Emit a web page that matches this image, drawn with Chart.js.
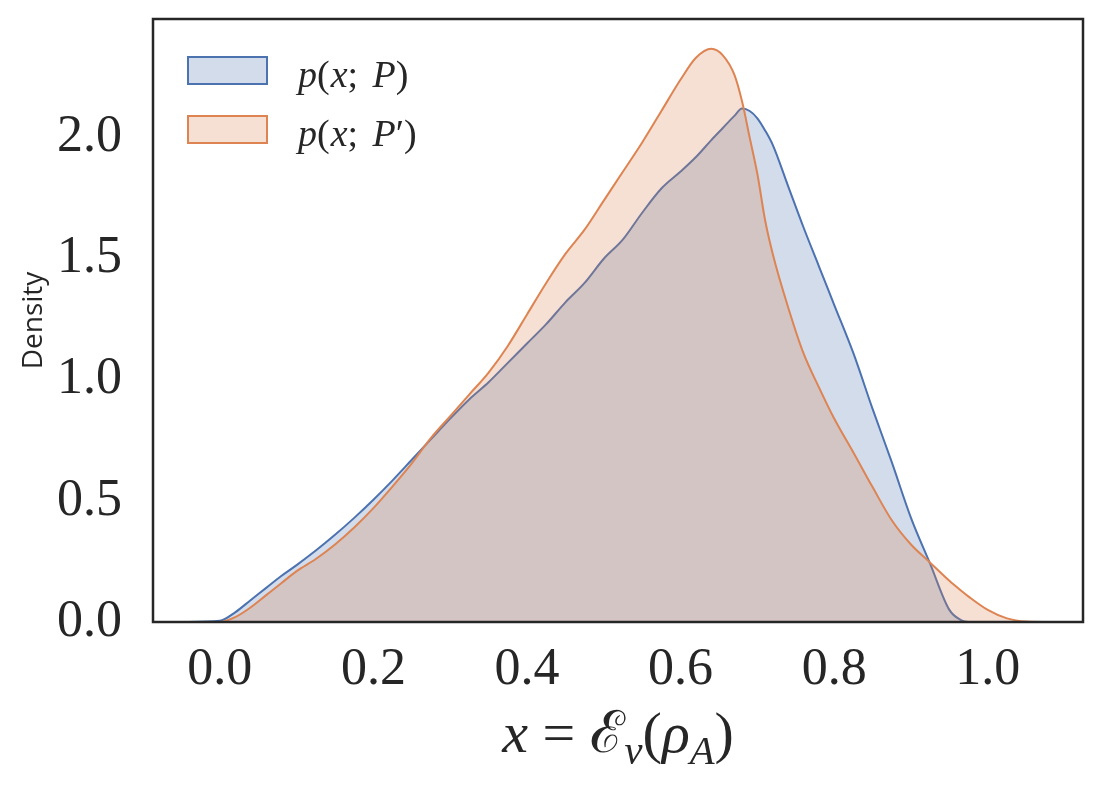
<!DOCTYPE html>
<html>
<head>
<meta charset="utf-8">
<script src="https://cdn.jsdelivr.net/npm/chart.js@4.4.0/dist/chart.umd.min.js"></script>
<style>
    html, body { margin: 0; padding: 0; background: #ffffff; }
    #wrap { width: 1102px; height: 785px; }
</style>
</head>
<body>
<div id="wrap"><canvas id="kde" width="1102" height="785"></canvas></div>
<script>
// ==================== DATA ====================

const xGrid = [-0.05, 0.0, 0.02, 0.04, 0.06, 0.08, 0.10, 0.125, 0.15, 0.175, 0.20, 0.225, 0.25, 0.275, 0.30,
    0.325, 0.35, 0.375, 0.40, 0.425, 0.45, 0.475, 0.50, 0.525, 0.55, 0.575, 0.60, 0.62, 0.64, 0.655, 0.67,
    0.68, 0.69, 0.70, 0.71, 0.72, 0.74, 0.76, 0.78, 0.80, 0.825, 0.85, 0.875, 0.90, 0.925, 0.95, 0.965,
    0.975, 1.0, 1.025, 1.05, 1.08];

// p(x;P)
const densityP = [0, 0.005, 0.04, 0.09, 0.14, 0.19, 0.235, 0.295, 0.36, 0.43, 0.505, 0.585, 0.67, 0.755, 0.84,
    0.92, 0.99, 1.07, 1.15, 1.23, 1.32, 1.40, 1.50, 1.58, 1.69, 1.79, 1.86, 1.92, 1.99, 2.04, 2.09,
    2.12, 2.11, 2.08, 2.03, 1.97, 1.80, 1.63, 1.47, 1.31, 1.11, 0.88, 0.66, 0.43, 0.24, 0.05, 0.008,
    0, 0, 0, 0, 0];

// p(x;P')
const densityP2 = [0, 0, 0.02, 0.06, 0.11, 0.16, 0.21, 0.26, 0.32, 0.39, 0.47, 0.56, 0.655, 0.76, 0.85,
    0.94, 1.03, 1.14, 1.27, 1.40, 1.52, 1.62, 1.74, 1.86, 1.98, 2.11, 2.24, 2.33, 2.367, 2.34, 2.26,
    2.15, 2.00, 1.85, 1.66, 1.52, 1.30, 1.11, 0.97, 0.84, 0.70, 0.557, 0.42, 0.32, 0.245, 0.17, 0.13,
    0.105, 0.05, 0.015, 0.002, 0];

const seriesLabels = ['p(x; P)', 'p(x; P\u2032)'];
const xTicks = [0.0, 0.2, 0.4, 0.6, 0.8, 1.0];
const yTicks = [0.0, 0.5, 1.0, 1.5, 2.0];

// ==================== STYLE ====================

const BLUE = '#4c72b0';
const ORANGE = '#dd8452';
const BLUE_FILL = 'rgba(76, 114, 176, 0.25)';
const ORANGE_FILL = 'rgba(221, 132, 82, 0.25)';
const INK = '#262626';
const SERIF = '"Liberation Serif", "DejaVu Serif", serif';

// рисуем "математику": буквы курсивом, остальное прямым
function drawMath(ctx, parts, x, y, size, align) {
    let total = 0;
    const measured = parts.map(p => {
        const s = size * (p.sub ? 0.7 : 1);
        ctx.font = (p.it ? 'italic ' : '') + s + 'px ' + SERIF;
        const w = ctx.measureText(p.t).width + (p.gap || 0);
        total += w;
        return { p, s, w };
    });
    let cx = align === 'center' ? x - total / 2 : x;
    ctx.textBaseline = 'alphabetic';
    ctx.textAlign = 'left';
    measured.forEach(m => {
        ctx.font = (m.p.it ? 'italic ' : '') + m.s + 'px ' + SERIF;
        ctx.fillText(m.p.t, cx, y + (m.p.sub ? size * 0.2 : 0));
        cx += m.w;
    });
}

function labelParts(text) {
    return Array.from(text).map(ch => ({ t: ch, it: /[A-Za-z]/.test(ch), gap: ch === ';' ? 5 : (ch === '(' ? 1 : 0) }));
}

const decorPlugin = {
    id: 'decor',
    afterDraw(chart) {
        const ctx = chart.ctx;
        const a = chart.chartArea;
        ctx.save();

        // рамка вокруг области графика
        ctx.strokeStyle = INK;
        ctx.lineWidth = 2.5;
        ctx.strokeRect(a.left, a.top, a.right - a.left, a.bottom - a.top);

        // легенда
        const items = [
            { label: seriesLabels[0], line: BLUE, fill: BLUE_FILL },
            { label: seriesLabels[1], line: ORANGE, fill: ORANGE_FILL }
        ];
        items.forEach((it, i) => {
            const bx = a.left + 35, by = a.top + 38 + i * 59;
            ctx.fillStyle = '#ffffff';
            ctx.fillRect(bx, by, 79, 27);
            ctx.fillStyle = it.fill;
            ctx.fillRect(bx, by, 79, 27);
            ctx.strokeStyle = it.line;
            ctx.lineWidth = 2;
            ctx.strokeRect(bx, by, 79, 27);
            ctx.fillStyle = INK;
            drawMath(ctx, labelParts(it.label), bx + 110, by + 30, 38, 'left');
        });

        // подпись оси X
        ctx.fillStyle = INK;
        drawMath(ctx, [
            { t: 'x', it: true },
            { t: ' = ', it: false },
            { t: '\u2130', it: false },
            { t: 'v', it: true, sub: true },
            { t: '(', it: false },
            { t: '\u03c1', it: true },
            { t: 'A', it: true, sub: true },
            { t: ')', it: false }
        ], (a.left + a.right) / 2, 752, 58, 'center');

        ctx.restore();
    }
};

// ==================== CHART ====================

new Chart(document.getElementById('kde'), {
    type: 'line',
    data: {
        datasets: [
            {
                label: seriesLabels[0],
                data: xGrid.map((x, i) => ({ x: x, y: densityP[i] })),
                borderColor: BLUE,
                backgroundColor: BLUE_FILL,
                borderWidth: 2,
                fill: 'origin',
                pointRadius: 0,
                cubicInterpolationMode: 'monotone',
                order: 2
            },
            {
                label: seriesLabels[1],
                data: xGrid.map((x, i) => ({ x: x, y: densityP2[i] })),
                borderColor: ORANGE,
                backgroundColor: ORANGE_FILL,
                borderWidth: 2,
                fill: 'origin',
                pointRadius: 0,
                cubicInterpolationMode: 'monotone',
                order: 1
            }
        ]
    },
    options: {
        responsive: false,
        animation: false,
        layout: { padding: { top: 19, right: 19, left: 0, bottom: 0 } },
        scales: {
            x: {
                type: 'linear',
                min: -0.087,
                max: 1.124,
                grid: { display: false, drawTicks: false },
                border: { display: false },
                afterBuildTicks: scale => { scale.ticks = xTicks.map(v => ({ value: v })); },
                afterFit: scale => {
                    scale.height = 163;
                    scale.paddingLeft = 0;
                    scale.paddingRight = 0;
                },
                ticks: {
                    padding: 17,
                    maxRotation: 0,
                    color: INK,
                    font: { family: SERIF, size: 52 },
                    callback: v => v.toFixed(1)
                }
            },
            y: {
                type: 'linear',
                min: 0,
                max: 2.49,
                grid: { display: false, drawTicks: false },
                border: { display: false },
                afterBuildTicks: scale => { scale.ticks = yTicks.map(v => ({ value: v })); },
                afterFit: scale => {
                    scale.width = 153;
                    scale.paddingTop = 0;
                    scale.paddingBottom = 0;
                },
                ticks: {
                    padding: 31,
                    color: INK,
                    font: { family: SERIF, size: 52 },
                    callback: v => v.toFixed(1)
                },
                title: {
                    display: true,
                    text: 'Density',
                    color: INK,
                    padding: { top: 17, bottom: 0 },
                    font: { family: '"Open Sans", "DejaVu Sans", sans-serif', size: 28 }
                }
            }
        },
        plugins: {
            legend: { display: false },
            tooltip: { enabled: false }
        }
    },
    plugins: [decorPlugin]
});
</script>
</body>
</html>
